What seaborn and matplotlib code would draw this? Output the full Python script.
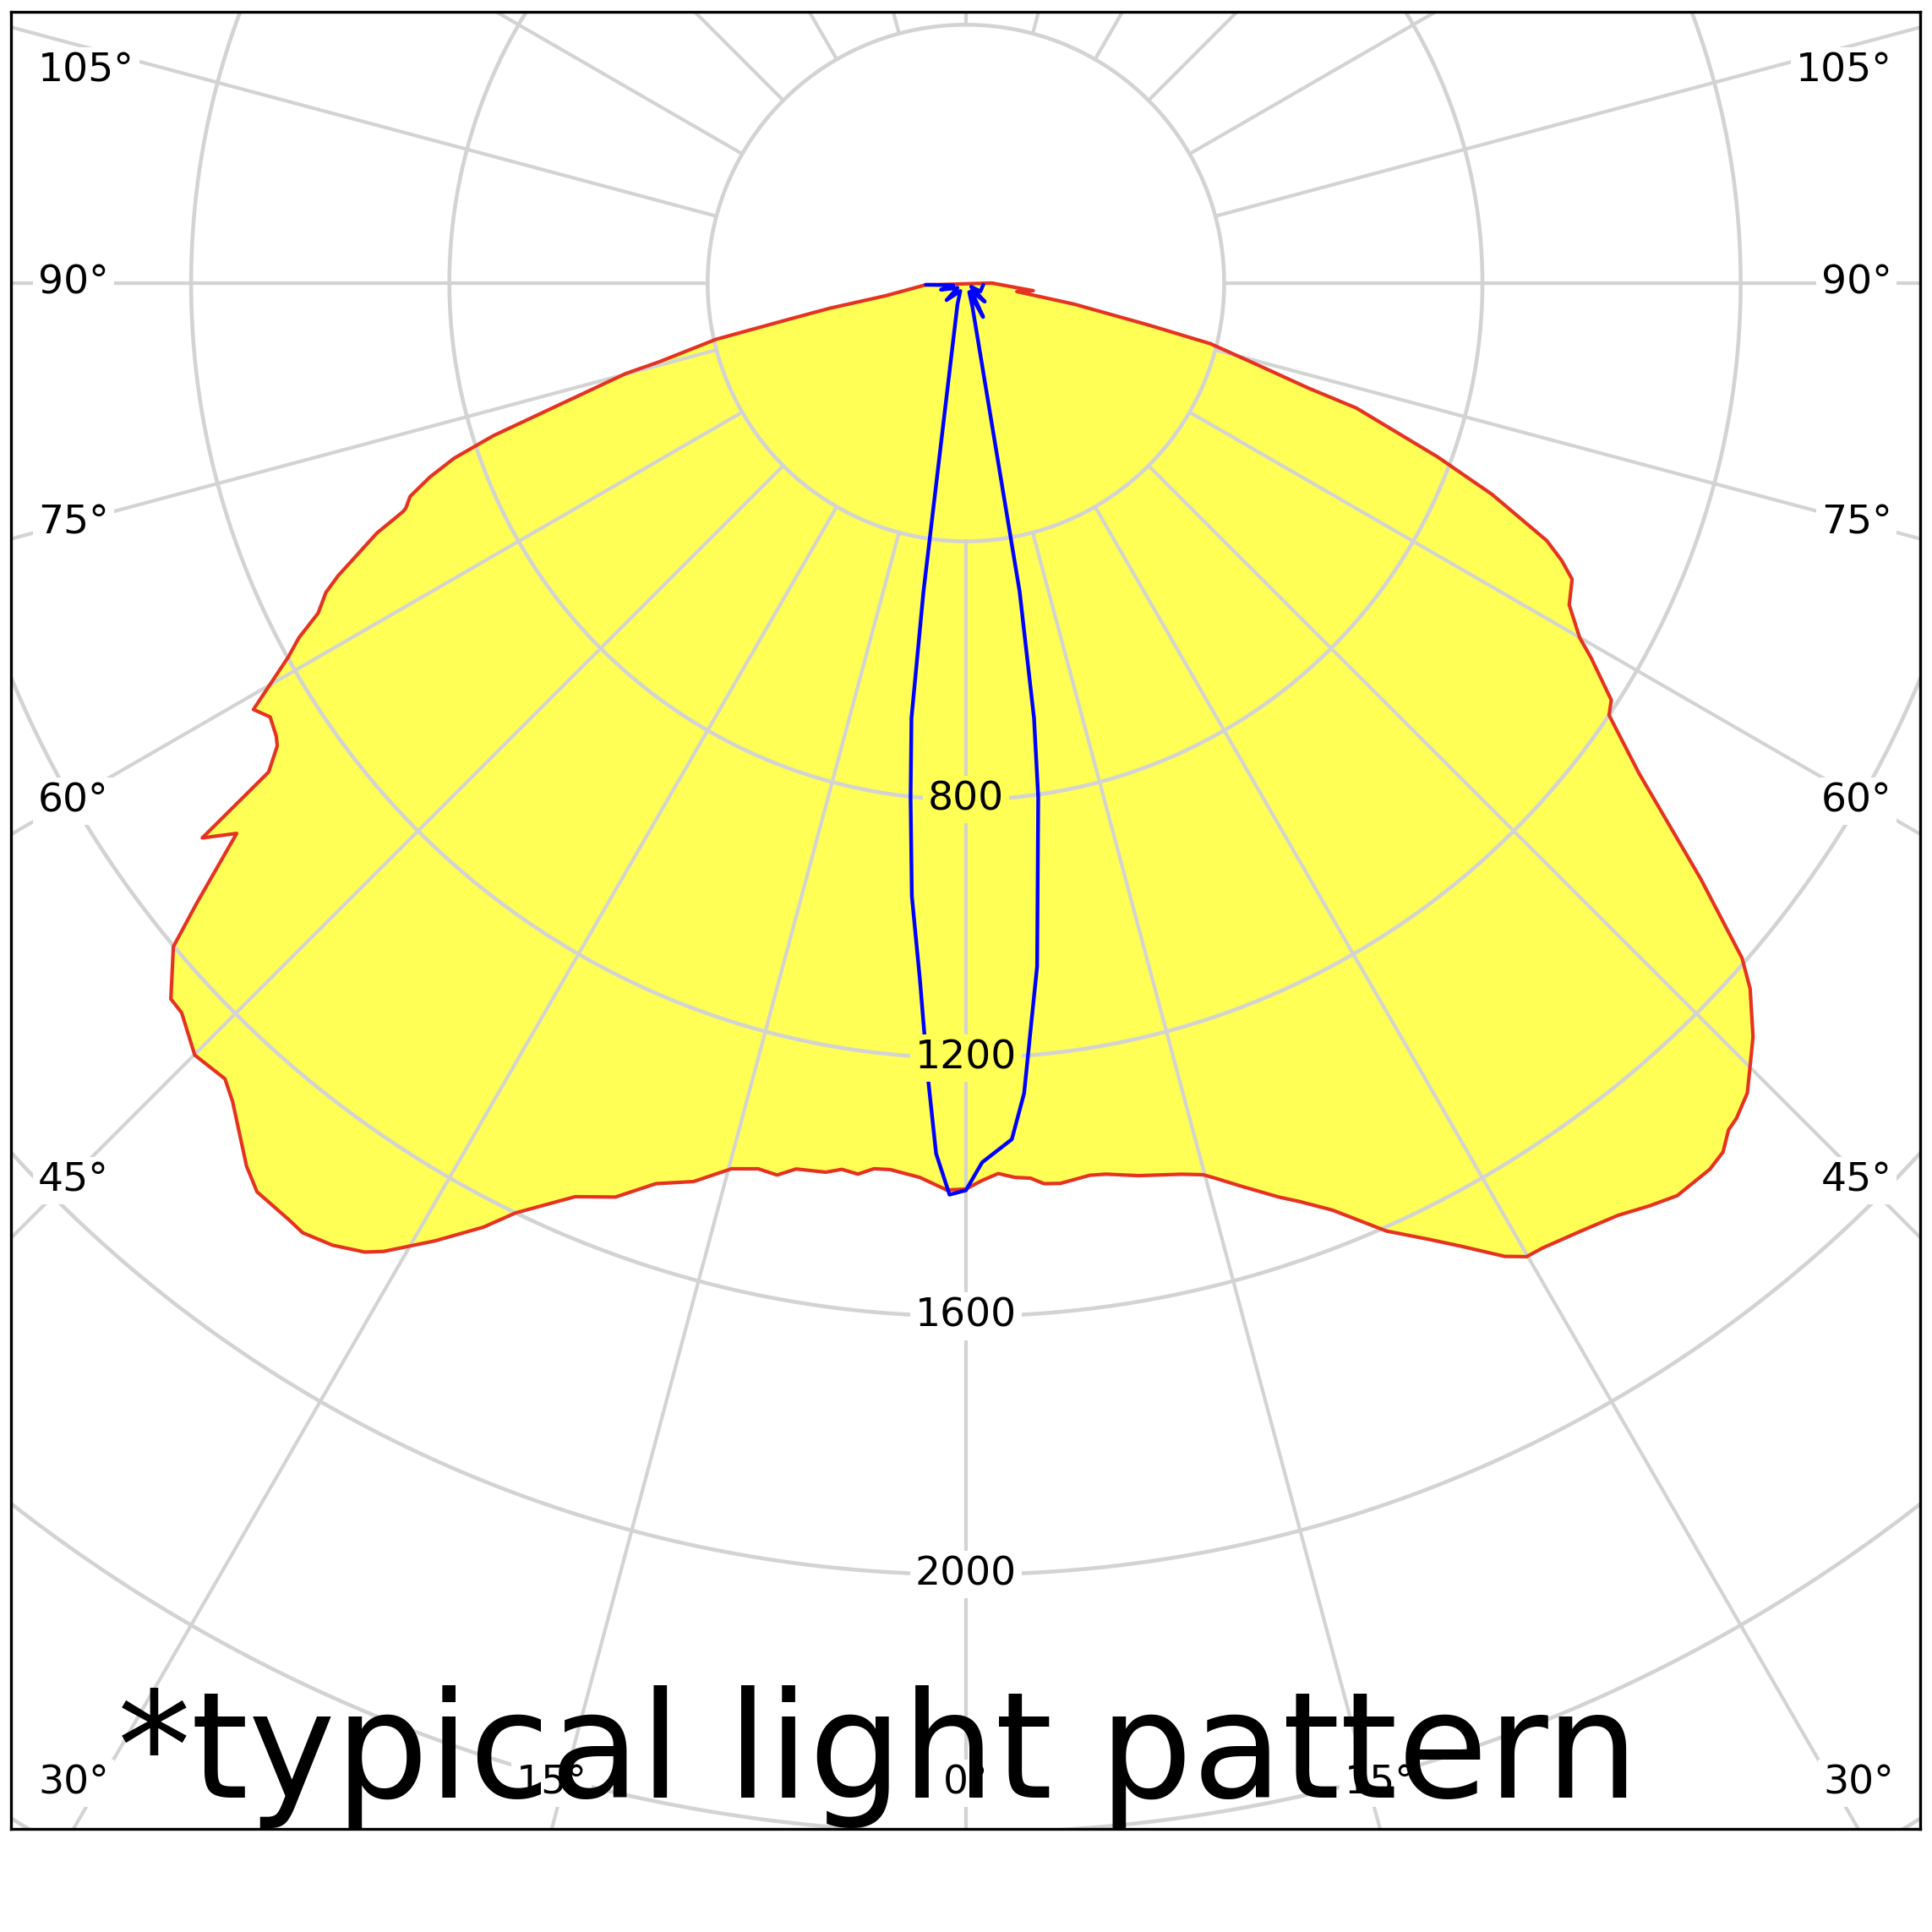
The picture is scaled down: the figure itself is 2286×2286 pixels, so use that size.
import numpy as np
import pandas as pd
import matplotlib.pyplot as plt
import seaborn as sns

# photometric data: angle (deg, left negative), intensity (cd)
red_deg = [-87.3, -81.0, -79.5, -78.4, -77.3, -75.6, -75.1, -72.1, -71.1, -70.1, -69.0, -68.1,
           -67.9, -67.0, -65.0, -64.2, -63.0, -62.0, -61.1, -59.1, -58.05, -56.7, -56.1, -54.96,
           -54.0, -52.96, -51.1, -50.06, -48.0, -47.07, -44.97, -42.96, -41.86, -39.17, -37.96,
           -35.84, -34.93, -33.36, -31.81, -31.02, -29.0, -27.07, -25.84, -23.16, -20.98, -18.99,
           -16.86, -14.83, -13.2, -11.95, -10.85, -8.96, -7.97, -6.91, -5.92, -4.87, -2.94, -1.2,
           0.0, 1.04, 2.08, 3.11, 4.14, 4.96, 5.99, 7.91, 8.94, 10.94, 13.61, 14.9, 15.5, 16.94,
           18.89, 20.0, 21.58, 23.92, 25.86, 27.24, 28.97, 29.94, 30.87, 32.95, 34.97, 36.57,
           37.94, 40.02, 41.07, 42.01, 42.7, 43.98, 46.24, 48.02, 48.99, 50.97, 53.95, 56.11,
           57.14, 59.06, 59.98, 61.93, 63.96, 65.03, 66.09, 68.12, 69.78, 72.25, 72.95, 74.54,
           76.07, 77.04, 78.97, 80.5, 83.5, 90.0]
red_cd = [63, 126, 215, 282, 397, 490, 545, 769, 838, 883, 922, 935,
          941, 991, 1073, 1101, 1126, 1170, 1199, 1286, 1270, 1278, 1285, 1319,
          1462, 1415, 1532, 1601, 1657, 1659, 1690, 1684, 1702, 1764, 1785,
          1790, 1794, 1784, 1766, 1750, 1696, 1642, 1600, 1539, 1516, 1475,
          1454, 1419, 1409, 1412, 1397, 1394, 1386, 1390, 1379, 1378, 1387, 1405,
          1403, 1390, 1380, 1387, 1390, 1400, 1402, 1395, 1397, 1408, 1420, 1429, 1438, 1462,
          1496, 1514, 1544, 1606, 1646, 1678, 1723, 1740, 1741, 1750, 1762, 1779,
          1792, 1792, 1785, 1765, 1760, 1743, 1688, 1634, 1593, 1465, 1289, 1200,
          1190, 1129, 1098, 1059, 1045, 1018, 984, 878, 778, 635, 555, 458,
          390, 292, 171, 80, 105, 40]

blue_deg = [-87.6, -80.0, -74.9, -60.0, -48.6, -35.0, -21.8, -7.83, -7.13, -6.14, -5.04, -3.77,
            -2.72, -1.96, -1.03, 0.0, 1.06, 3.07, 4.11, 5.95, 8.01, 8.9, 9.88, 15.4, 20.0, 26.9,
            35.0, 45.4, 55.0, 60.0, 84.4]
blue_cd = [62, 20, 40, 15, 40, 15, 35, 482, 679, 801, 953, 1082,
           1234, 1349, 1412, 1405, 1362, 1328, 1258, 1064, 804, 682, 485, 38, 15, 59,
           15, 41, 10, 26, 27]

ring_values = [400, 800, 1200, 1600, 2000, 2400, 2800]
ring_labels = [800, 1200, 1600, 2000]
spoke_deg = list(range(0, 360, 15))
angle_labels = [0, 15, 30, 45, 60, 75, 90, 105]


def to_xy(deg, cd):
    th = np.radians(np.asarray(deg, dtype=float))
    cd = np.asarray(cd, dtype=float)
    return cd * np.sin(th), -cd * np.cos(th)


sns.set_style('white')
plt.rcParams['font.family'] = ['DejaVu Sans']
plt.rcParams['text.color'] = 'black'

fig = plt.figure(figsize=(22.86, 22.86), dpi=100)
ax = fig.add_axes([13 / 2286, 122 / 2286, 2259 / 2286, 2150 / 2286])
ax.set_xlim(-1479, 1478)
ax.set_ylim(-2394, 420)
ax.set_xticks([])
ax.set_yticks([])
for s in ax.spines.values():
    s.set_color('black')
    s.set_linewidth(2.4)
    s.set_zorder(10)

grid_col = '#d3d3d3'
fill_col = '#ffff55'

# grid rings and spokes
t = np.linspace(0, 360, 721)
for r in ring_values:
    gx, gy = to_xy(t, np.full_like(t, r))
    ax.plot(gx, gy, color=grid_col, linewidth=3.3, zorder=2)
for a in spoke_deg:
    sx, sy = to_xy([a, a], [400, 3200])
    ax.plot(sx, sy, color=grid_col, linewidth=3.0, zorder=2)

# red curve (filled) and blue curve
rx, ry = to_xy(red_deg, red_cd)
ax.fill(rx, ry, color=fill_col, lw=0, zorder=1)
red_df = pd.DataFrame({'x': np.append(rx, rx[0]), 'y': np.append(ry, ry[0])})
sns.lineplot(data=red_df, x='x', y='y', sort=False, estimator=None, color='#e53222', ax=ax)
ax.lines[-1].set_linewidth(3.0)
ax.lines[-1].set_zorder(3)
bx, by = to_xy(blue_deg, blue_cd)
blue_df = pd.DataFrame({'x': bx, 'y': by})
sns.lineplot(data=blue_df, x='x', y='y', sort=False, estimator=None, color='#0000ff', ax=ax)
ax.lines[-1].set_linewidth(3.2)
ax.lines[-1].set_zorder(4)
ax.set_xlabel('')
ax.set_ylabel('')

# radial labels on the 0 deg spoke
red_at_zero = red_cd[red_deg.index(0.0)]
for v in ring_labels:
    bg = fill_col if v < red_at_zero else 'white'
    ax.text(0, -v, str(v), fontsize=34, ha='center', va='center', zorder=6,
            bbox=dict(boxstyle='square,pad=0.12', fc=bg, ec='none'))

# angle labels along the frame
side, bottom, top = 1390, -2394, 420
for a in angle_labels:
    s, c = np.sin(np.radians(a)), np.cos(np.radians(a))
    ts = side / s if s > 0 else np.inf
    tb = -bottom / c if c > 0 else np.inf
    tt = top / -c if c < 0 else np.inf
    tm = min(ts, tb, tt)
    y = min(max(-tm * c, -2323), 328)
    if tm == ts:
        ax.text(-1437, y, f'{a}°', fontsize=34, ha='left', va='center', zorder=6,
                bbox=dict(boxstyle='square,pad=0.12', fc='white', ec='none'))
        ax.text(1434, y, f'{a}°', fontsize=34, ha='right', va='center', zorder=6,
                bbox=dict(boxstyle='square,pad=0.12', fc='white', ec='none'))
    else:
        xs = [-tm * s, tm * s] if a > 0 else [0]
        for x in xs:
            ax.text(x, y, f'{a}°', fontsize=34, ha='center', va='center', zorder=6,
                    bbox=dict(boxstyle='square,pad=0.12', fc='white', ec='none'))

fig.text(139 / 2286, (2286 - 2127) / 2286, '*typical light pattern', fontsize=125,
         ha='left', va='baseline', color='black', zorder=20)

fig.savefig('out.png', dpi=100, facecolor='white')
